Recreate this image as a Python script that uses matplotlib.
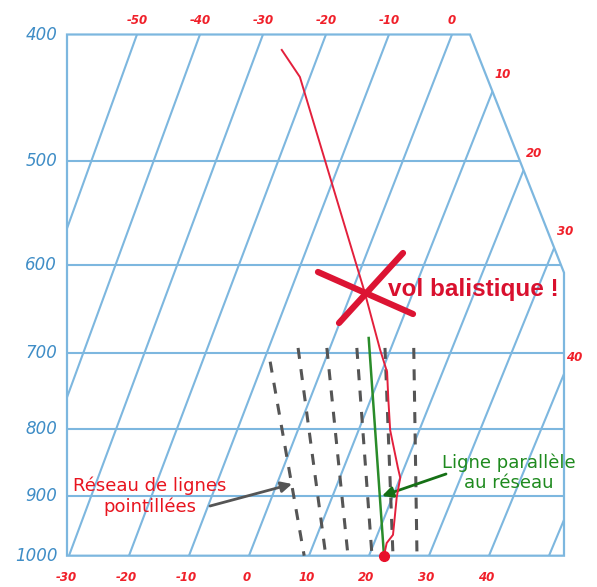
import numpy as np
import matplotlib.pyplot as plt
from matplotlib.patches import Polygon
from matplotlib.lines import Line2D

# values
isobars = [500, 600, 700, 800, 900]
p_labels = [400, 500, 600, 700, 800, 900, 1000]
isotherms = [-50, -40, -30, -20, -10, 0, 10, 20, 30, 40, 50]
bottom_labels = [-30, -20, -10, 0, 10, 20, 30, 40]
top_labels = [-50, -40, -30, -20, -10, 0]
side_labels = [10, 20, 30, 40]

# sounding (red curve)
snd_p = [411, 431, 629, 696, 724, 760, 802, 856, 872, 902, 934, 964, 978, 1000]
snd_T = [-26.1, -21.6, 2.1, 8.3, 10.9, 12.9, 15.2, 18.9, 20.0, 20.7, 21.7, 22.6, 22.1, 22.5]

# network of dashed lines
dash_T_bot = [9.2, 12.8, 16.5, 20.5, 24.0, 28.0]
dash_T_top = [-8.9, -5.2, -0.5, 4.4, 9.0, 13.7]
dash_p_top = [711, 694, 694, 694, 694, 694]

# green line parallel to the network
green_T = [5.7, 22.5]
green_p = [682, 1000]

BLUE = '#7db7df'
BLUE_TXT = '#3f8dc6'
RED_LBL = '#f0202a'

SKEW = 33.83    # isotherm shift between 1000 and 400 hPa (degrees at the bottom)
SPREAD = 0.05   # isotherms open up a bit towards the top
XL, XTR, XR = -30.33, 36.83, 52.5
P_CORNER = 608


def frac(p):
    return np.log(1000.0 / np.asarray(p, float)) / np.log(2.5)


def skew_x(T, p):
    f = frac(p)
    return np.asarray(T, float) * (1 + SPREAD * f) + SKEW * f


def edge_x(p):
    f = frac(p)
    fc = frac(P_CORNER)
    return np.where(f <= fc, XR, XR + (XTR - XR) * (f - fc) / (1 - fc))


def fpx(x, y):
    return (x / 597.0, 1 - y / 587.0)


fig = plt.figure(figsize=(5.97, 5.87), dpi=100)
ax = fig.add_axes([67 / 597, (587 - 555.7) / 587, 497 / 597, 521.2 / 587])
ax.set_yscale('log')
ax.set_ylim(1000, 400)
ax.set_xlim(XL, XR)
ax.axis('off')

frame = Polygon([(XL, 1000), (XL, 400), (XTR, 400), (XR, P_CORNER), (XR, 1000)],
                closed=True, fill=False, edgecolor=BLUE, lw=1.6, clip_on=False,
                joinstyle='miter', zorder=2)
ax.add_patch(frame)

for T in isotherms:
    ln, = ax.plot(skew_x([T, T], [1000, 400]), [1000, 400], color=BLUE, lw=1.5, zorder=1)
    ln.set_clip_path(frame)

for p in isobars:
    ln, = ax.plot([XL, XR], [p, p], color=BLUE, lw=1.5, zorder=1)
    ln.set_clip_path(frame)

for p in p_labels:
    ax.annotate(str(p), (XL, p), xytext=(-7, 0), textcoords='offset points',
                ha='right', va='center', fontsize=12, style='italic', color=BLUE_TXT)

lbl = dict(fontsize=8.5, style='italic', weight='bold', color=RED_LBL,
           ha='center', va='center', annotation_clip=False)
for T in bottom_labels:
    ax.annotate(str(T), (skew_x(T, 1000), 1000), xytext=(-2, -15.5),
                textcoords='offset points', **lbl)
for T in top_labels:
    ax.annotate(str(T), (skew_x(T, 400), 400), xytext=(0, 10),
                textcoords='offset points', **lbl)
pp = np.geomspace(1000, 400, 3000)
for T in side_labels:
    i = np.argmax(skew_x(T, pp) >= edge_x(pp))
    ax.annotate(str(T), (skew_x(T, pp[i]), pp[i]), xytext=(7.5, 12),
                textcoords='offset points', **lbl)

# dashed network
for tb, tt, pt in zip(dash_T_bot, dash_T_top, dash_p_top):
    ax.plot(skew_x([tt, tb], [pt, 1000]), [pt, 1000], color='#555555', lw=2.2,
            linestyle=(0, (3.6, 3.4)), dash_capstyle='butt', zorder=3)

# green line
ax.plot(skew_x(green_T, green_p), green_p, color='#2a8c2a', lw=1.8, zorder=4)

# sounding
ax.plot(skew_x(snd_T, snd_p), snd_p, color='#e3203c', lw=1.4, zorder=5)
ax.plot(skew_x(snd_T[-1], snd_p[-1]), snd_p[-1], 'o', color='#e8102a', ms=7,
        clip_on=False, zorder=6)

# red cross
for (x0, y0), (x1, y1) in [((318, 272), (413, 314)), ((403, 253), (339, 323))]:
    a, b = fpx(x0, y0), fpx(x1, y1)
    fig.add_artist(Line2D([a[0], b[0]], [a[1], b[1]], transform=fig.transFigure,
                          color='#dc1433', lw=4.5, solid_capstyle='round', zorder=7))

fig.text(*fpx(473, 290), 'vol balistique !', fontsize=17.5, weight='bold',
         family='Liberation Sans', color='#d9102e', ha='center', va='center')

fig.text(*fpx(150, 496), 'Réseau de lignes\npointillées', ha='center', va='center',
         fontsize=13, color='#e8141e', linespacing=1.15)
ax.annotate('', xy=fpx(292, 484), xycoords='figure fraction',
            xytext=fpx(210, 506), textcoords='figure fraction',
            arrowprops=dict(arrowstyle='-|>', color='#555555', lw=2,
                            mutation_scale=16, shrinkA=0, shrinkB=0))

fig.text(*fpx(509, 473), 'Ligne parallèle\nau réseau', ha='center', va='center',
         fontsize=13, color='#1e8a1e', linespacing=1.15)
ax.annotate('', xy=fpx(382, 496), xycoords='figure fraction',
            xytext=fpx(446, 474), textcoords='figure fraction',
            arrowprops=dict(arrowstyle='-|>', color='#157015', lw=2,
                            mutation_scale=16, shrinkA=0, shrinkB=0))

fig.savefig('out.png', dpi=100)
